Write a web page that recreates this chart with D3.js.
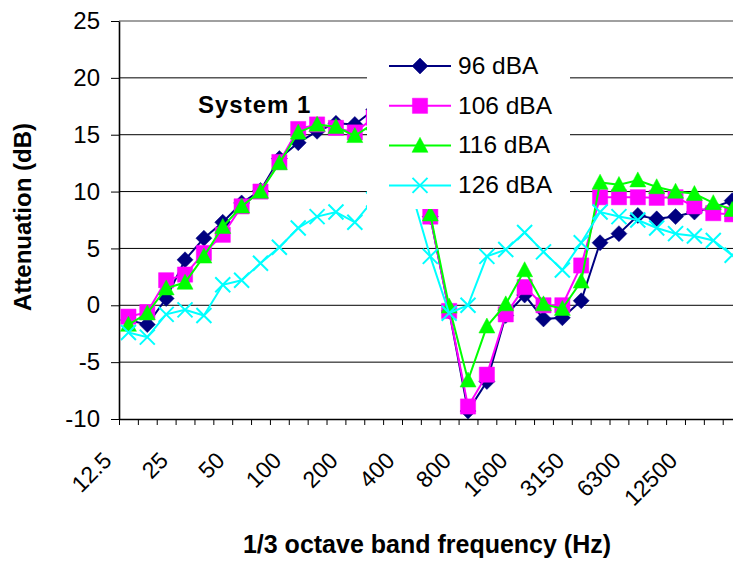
<!DOCTYPE html>
<html>
<head>
<meta charset="utf-8">
<script src="https://cdn.jsdelivr.net/npm/d3@7"></script>
<style>
  html, body { margin: 0; padding: 0; background: #fff; }
  svg { display: block; }
</style>
</head>
<body>
<script>
// ---- data ----
const categories = ["12.5","16","20","25","31.5","40","50","63","80","100","125","160","200","250","315","400","500","630","800","1000","1250","1600","2000","2500","3150","4000","5000","6300","8000","10000","12500","16000","20000"];
const tickLabels = ["12.5","25","50","100","200","400","800","1600","3150","6300","12500"];
const yTicks = [-10, -5, 0, 5, 10, 15, 20, 25];

const s96  = [-1.3,-1.7,0.6,4.0,5.9,7.3,9.0,10.1,12.9,14.3,15.3,16.0,15.9,17.2,17.5,16.5,7.8,-0.5,-9.3,-6.7,-0.9,0.9,-1.2,-1.1,0.4,5.5,6.3,7.9,7.6,7.8,8.2,8.6,9.2];
const s106 = [-1.0,-0.6,2.2,2.7,4.6,6.2,8.7,10.0,12.6,15.5,15.9,15.6,15.2,16.5,17.0,16.5,7.8,-0.5,-8.9,-6.1,-0.8,1.6,0.0,0.0,3.5,9.5,9.5,9.5,9.45,9.5,8.7,8.1,8.0];
const s116 = [-1.7,-0.7,1.5,2.0,4.3,6.9,8.7,10.0,12.5,15.2,15.9,15.7,14.9,16.0,16.5,16.0,8.0,-0.1,-6.6,-1.85,0.1,3.1,0.1,-0.3,2.1,10.8,10.6,11.0,10.4,10.0,9.8,9.0,8.4];
const s126 = [-2.4,-2.8,-0.8,-0.4,-0.9,1.8,2.2,3.7,5.1,6.8,7.8,8.2,7.3,9.3,10.0,10.0,4.3,-0.7,0.0,4.3,4.9,6.4,4.7,3.1,5.5,8.2,7.8,7.5,6.8,6.3,6.1,5.7,4.4];

const seriesNames = ["96 dBA","106 dBA","116 dBA","126 dBA"];
const seriesValues = [s96, s106, s116, s126];
const seriesColors = ["#000080","#FF00FF","#00FF00","#00FFFF"];
const seriesMarkers = ["diamond","square","triangle","x"];

// ---- layout ----
const W = 733, H = 565;
const pLeft = 119, pTop = 21, pBottom = 419, step = 18.866;
const pRight = pLeft + step * categories.length;
const FONT = "'Liberation Sans', Arial, Helvetica, sans-serif";

const svg = d3.select("body").append("svg").attr("width", W).attr("height", H)
  .style("font-family", FONT);

const x = d3.scaleBand().domain(categories).range([pLeft, pRight]).padding(0);
const cx = c => x(c) + x.bandwidth() / 2;
const y = d3.scaleLinear().domain([-10, 25]).range([pBottom, pTop]);
const xb = d3.scaleLinear().domain([0, categories.length]).range([pLeft, pRight]);

// gridlines
svg.append("g").selectAll("line")
  .data(yTicks.filter(v => v > -10 && v < 25))
  .join("line")
  .attr("x1", pLeft).attr("x2", pRight)
  .attr("y1", d => y(d)).attr("y2", d => y(d))
  .attr("stroke", "#000").attr("stroke-width", 1);

// plot area top border
svg.append("line")
  .attr("x1", pLeft).attr("x2", pRight)
  .attr("y1", y(25)).attr("y2", y(25))
  .attr("stroke", "#808080").attr("stroke-width", 1.5);

// y axis
const yAxis = svg.append("g")
  .attr("transform", `translate(${pLeft},0)`)
  .call(d3.axisLeft(y).tickValues(yTicks).tickSize(8).tickSizeOuter(0).tickPadding(11)
    .tickFormat(d => String(d)));
yAxis.select(".domain").attr("stroke", "#000").attr("stroke-width", 1.6);
yAxis.selectAll(".tick line").attr("stroke", "#000").attr("stroke-width", 1);
yAxis.selectAll("text").attr("font-size", 24).attr("font-family", FONT).attr("fill", "#000");

// x axis (ticks between categories)
const xAxis = svg.append("g")
  .attr("transform", `translate(0,${pBottom})`)
  .call(d3.axisBottom(xb).tickValues(d3.range(categories.length + 1)).tickSize(6)
    .tickSizeOuter(0).tickFormat(""));
xAxis.select(".domain").attr("stroke", "#000").attr("stroke-width", 1.3);
xAxis.selectAll(".tick line").attr("stroke", "#000").attr("stroke-width", 1);

// x tick labels, rotated
svg.append("g").selectAll("text")
  .data(tickLabels)
  .join("text")
  .attr("transform", d => `translate(${cx(d) - 15.5},462) rotate(-45)`)
  .attr("text-anchor", "end")
  .attr("font-size", 23)
  .attr("fill", "#000")
  .text(d => d);

// marker shapes
function markerPath(type) {
  switch (type) {
    case "diamond": return "M0,-8L8,0L0,8L-8,0Z";
    case "square": return "M-7.6,-7.6H7.6V7.6H-7.6Z";
    case "triangle": return "M0,-8.3L8,6.7H-8Z";
    case "x": return "M-7.5,-7.5L7.5,7.5M-7.5,7.5L7.5,-7.5";
  }
}
function drawMarker(g, type, color, px, py) {
  const p = g.append("path").attr("d", markerPath(type))
    .attr("transform", `translate(${px},${py})`);
  if (type === "x") p.attr("fill", "none").attr("stroke", color).attr("stroke-width", 2);
  else p.attr("fill", color).attr("stroke", color).attr("stroke-width", 0.5);
}

// series
const line = d3.line().x((d, i) => cx(categories[i])).y(d => y(d));
seriesValues.forEach((vals, si) => {
  const g = svg.append("g");
  g.append("path").attr("d", line(vals))
    .attr("fill", "none").attr("stroke", seriesColors[si]).attr("stroke-width", 2);
  vals.forEach((v, i) => drawMarker(g, seriesMarkers[si], seriesColors[si], cx(categories[i]), y(v)));
});

// legend
const lg = svg.append("g");
lg.append("rect").attr("x", 367).attr("y", 36).attr("width", 203).attr("height", 173).attr("fill", "#fff");
seriesNames.forEach((name, si) => {
  const ly = 66 + si * 39.8;
  lg.append("line").attr("x1", 389).attr("x2", 451).attr("y1", ly).attr("y2", ly)
    .attr("stroke", seriesColors[si]).attr("stroke-width", 2);
  drawMarker(lg, seriesMarkers[si], seriesColors[si], 420, ly);
  lg.append("text").attr("x", 458).attr("y", ly + 7.8)
    .attr("font-size", 24.5).attr("fill", "#000").text(name);
});

// annotation
svg.append("text").attr("x", 198).attr("y", 113)
  .attr("font-size", 24).attr("font-weight", "bold").attr("letter-spacing", 1)
  .attr("fill", "#000").text("System 1");

// axis titles
svg.append("text")
  .attr("transform", "translate(31,217) rotate(-90)")
  .attr("text-anchor", "middle").attr("font-size", 24).attr("font-weight", "bold")
  .attr("fill", "#000").text("Attenuation (dB)");
svg.append("text")
  .attr("x", 427).attr("y", 553)
  .attr("text-anchor", "middle").attr("font-size", 25).attr("font-weight", "bold")
  .attr("fill", "#000").text("1/3 octave band frequency (Hz)");
</script>
</body>
</html>
